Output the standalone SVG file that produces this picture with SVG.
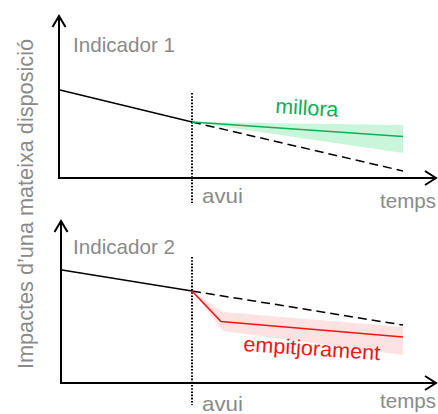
<svg xmlns="http://www.w3.org/2000/svg" width="438" height="414" viewBox="0 0 438 414">
<style>
text{font-family:"Liberation Sans",Arial,Helvetica,sans-serif;font-size:21px}
.lbl{fill:#8a8a8a}
.axis{stroke:#000;stroke-width:2;fill:none}
.arrow{stroke:#000;stroke-width:2;fill:none;stroke-linejoin:miter}
.trend{stroke:#000;stroke-width:1.3;fill:none}
.dash{stroke:#000;stroke-width:1.5;fill:none;stroke-dasharray:9 5}
.dot{stroke:#000;stroke-width:2;fill:none;stroke-dasharray:1.6 1.6}
</style>
<rect width="438" height="414" fill="#fff"/>
<g id="ylabel">
<text class="lbl" transform="translate(33,369) rotate(-90)" style="font-size:22px" textLength="330" lengthAdjust="spacingAndGlyphs">Impactes d’una mateixa disposició</text>
</g>
<g id="panel1">
<path class="axis" d="M59,16 V178 H435"/>
<path class="arrow" d="M52.5,27 L59,16 L65.5,27"/>
<path class="arrow" d="M425,171 L436,178 L425,185"/>
<text class="lbl" x="73" y="52" textLength="102" lengthAdjust="spacingAndGlyphs">Indicador 1</text>
<text class="lbl" x="202" y="203" textLength="41" lengthAdjust="spacingAndGlyphs">avui</text>
<text class="lbl" x="380" y="208" textLength="56" lengthAdjust="spacingAndGlyphs">temps</text>
</g>
<g id="panel2">
<path class="axis" d="M61,221 V383 H435"/>
<path class="arrow" d="M54.5,232 L61,221 L67.5,232"/>
<path class="arrow" d="M425,376 L436,383 L425,390"/>
<text class="lbl" x="73" y="254" textLength="102" lengthAdjust="spacingAndGlyphs">Indicador 2</text>
<text class="lbl" x="202" y="411" textLength="41" lengthAdjust="spacingAndGlyphs">avui</text>
<text class="lbl" x="380" y="408" textLength="56" lengthAdjust="spacingAndGlyphs">temps</text>
</g>
<g id="millora">
<polygon points="192,122 403,125 403,153" fill="#c9f5da"/>
<text x="275" y="113" fill="#13ad55" transform="rotate(3.5 275 113)" textLength="63" lengthAdjust="spacingAndGlyphs">millora</text>
</g>
<g id="empitjorament">
<polygon points="192,291 223,312 403,327 403,355 223,331 192,291" fill="#fde2e2"/>
<text x="243" y="351" fill="#f41414" transform="rotate(3.8 243 351)" textLength="137" lengthAdjust="spacingAndGlyphs">empitjorament</text>
</g>
<g id="connectors">
<line class="dot" x1="192" y1="93" x2="192" y2="203"/>
<line class="trend" x1="60" y1="90" x2="192" y2="122"/>
<line class="dash" x1="192" y1="122" x2="403" y2="171"/>
<line x1="192" y1="122" x2="403" y2="136.5" stroke="#13ad55" stroke-width="1.6"/>
<line class="dot" x1="192" y1="257" x2="192" y2="405"/>
<line class="trend" x1="62" y1="270" x2="192" y2="291"/>
<line class="dash" x1="192" y1="291" x2="403" y2="325"/>
<polyline points="192,291 221,321.5 403,337" fill="none" stroke="#f41414" stroke-width="1.6"/>
</g>
</svg>
